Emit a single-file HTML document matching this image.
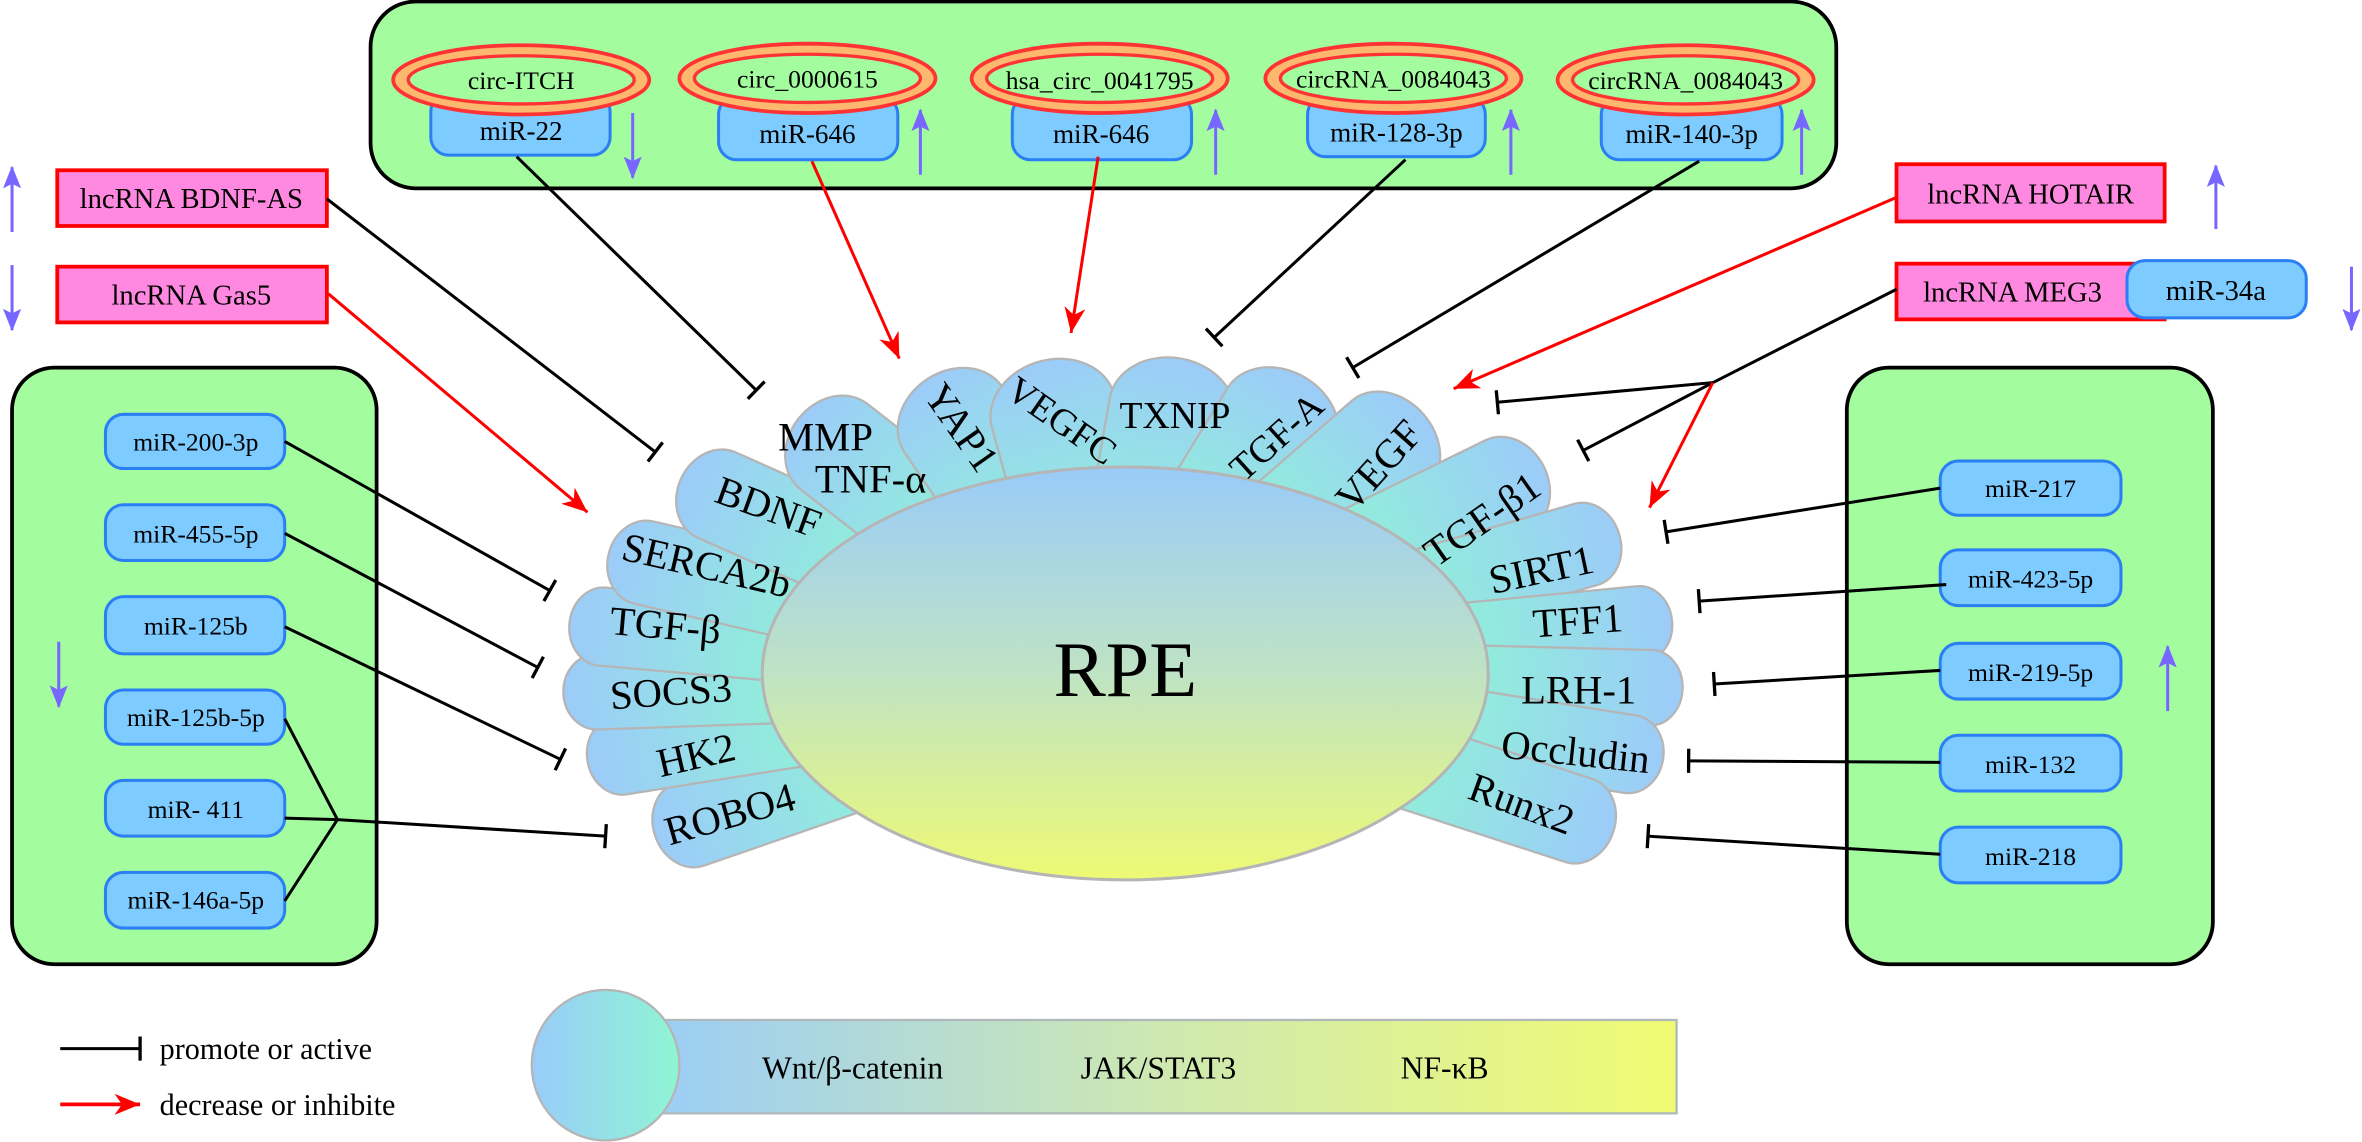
<!DOCTYPE html>
<html><head><meta charset="utf-8"><style>html,body{margin:0;padding:0;background:#fff}svg{display:block}svg text, svg g{font-family:"Liberation Serif","Times New Roman",Times,"DejaVu Serif",serif}</style></head>
<body>
<svg width="2362" height="1142" viewBox="0 0 1568 758" preserveAspectRatio="none" xmlns="http://www.w3.org/2000/svg" font-family="'Liberation Serif', 'Times New Roman', serif">
<defs>
<linearGradient id="pg" x1="0" y1="0" x2="1" y2="0"><stop offset="0" stop-color="#8ff5d4"/><stop offset="1" stop-color="#9ccbf9"/></linearGradient>
<linearGradient id="eg" x1="0" y1="0" x2="0" y2="1"><stop offset="0" stop-color="#99cbf9"/><stop offset="0.5" stop-color="#bfe3c4"/><stop offset="1" stop-color="#eefa74"/></linearGradient>
<linearGradient id="bg" x1="0" y1="0" x2="1" y2="0"><stop offset="0" stop-color="#99ccf9"/><stop offset="0.5" stop-color="#cde8b2"/><stop offset="1" stop-color="#f1fb72"/></linearGradient>
<linearGradient id="cg" x1="0" y1="0" x2="1" y2="0"><stop offset="0" stop-color="#99ccf9"/><stop offset="1" stop-color="#8ff5d4"/></linearGradient>
<marker id="t" markerUnits="userSpaceOnUse" markerWidth="4" markerHeight="18" refX="2" refY="9" orient="auto"><line x1="2" y1="1" x2="2" y2="17" stroke="#000" stroke-width="2.2"/></marker>
<marker id="a" markerUnits="userSpaceOnUse" markerWidth="18" markerHeight="14" refX="17" refY="7" orient="auto"><path d="M0,0 L17,7 L0,14 L5,7z" fill="#ff0000"/></marker>
<marker id="p" markerUnits="userSpaceOnUse" markerWidth="16" markerHeight="12" refX="14" refY="6" orient="auto"><path d="M0,0 L15,6 L0,12 L3,6z" fill="#7766ff"/></marker>
</defs>

<rect x="246" y="1" width="973" height="124" rx="30" fill="#a3fd9f" stroke="#000" stroke-width="2.5"/>
<rect x="8" y="244" width="242" height="396" rx="28" fill="#a3fd9f" stroke="#000" stroke-width="2.5"/>
<rect x="1226" y="244" width="243" height="396" rx="28" fill="#a3fd9f" stroke="#000" stroke-width="2.5"/>

<g fill="#7dcbff" stroke="#2b7ff5" stroke-width="2">
<rect x="286" y="62" width="119" height="41" rx="12"/>
<rect x="477" y="64" width="119" height="42" rx="12"/>
<rect x="672" y="64" width="119" height="42" rx="12"/>
<rect x="868" y="64" width="118" height="40" rx="12"/>
<rect x="1063" y="64" width="120" height="42" rx="12"/>
</g>
<g font-size="18" text-anchor="middle">
<text x="346" y="93">miR-22</text><text x="536" y="95">miR-646</text><text x="731" y="95">miR-646</text><text x="927" y="94">miR-128-3p</text><text x="1123" y="95">miR-140-3p</text>
</g>
<g fill="#fdb86f" stroke="#ff3333" stroke-width="2.5">
<ellipse cx="346" cy="53" rx="85" ry="23"/><ellipse cx="536" cy="52" rx="85" ry="23"/><ellipse cx="730" cy="52" rx="85" ry="23"/><ellipse cx="925" cy="52" rx="85" ry="23"/><ellipse cx="1119" cy="53" rx="85" ry="23"/>
</g>
<g fill="#a3fd9f" stroke="#ff3333" stroke-width="2.2">
<ellipse cx="346" cy="53" rx="75" ry="16"/><ellipse cx="536" cy="52" rx="75" ry="16"/><ellipse cx="730" cy="52" rx="75" ry="16"/><ellipse cx="925" cy="52" rx="75" ry="16"/><ellipse cx="1119" cy="53" rx="75" ry="16"/>
</g>
<g font-size="17" text-anchor="middle">
<text x="346" y="59">circ-ITCH</text><text x="536" y="58">circ_0000615</text><text x="730" y="59">hsa_circ_0041795</text><text x="925" y="58">circRNA_0084043</text><text x="1119" y="59">circRNA_0084043</text>
</g>

<g stroke="#7766ff" stroke-width="2" marker-end="url(#p)">
<line x1="420" y1="75" x2="420" y2="118"/>
<line x1="611" y1="116" x2="611" y2="73"/>
<line x1="807" y1="116" x2="807" y2="73"/>
<line x1="1003" y1="116" x2="1003" y2="73"/>
<line x1="1196" y1="116" x2="1196" y2="73"/>
<line x1="8" y1="154" x2="8" y2="111"/>
<line x1="8" y1="176" x2="8" y2="219"/>
<line x1="39" y1="426" x2="39" y2="469"/>
<line x1="1471" y1="152" x2="1471" y2="110"/>
<line x1="1561" y1="177" x2="1561" y2="219"/>
<line x1="1439" y1="472" x2="1439" y2="429"/>
</g>

<g fill="#ff88e0" stroke="#ff0000" stroke-width="2.5">
<rect x="38" y="113" width="179" height="37"/>
<rect x="38" y="177" width="179" height="37"/>
<rect x="1259" y="109" width="178" height="38"/>
<rect x="1259" y="175" width="178" height="37"/>
</g>
<rect x="1412" y="173" width="119" height="38" rx="12" fill="#7dcbff" stroke="#2b7ff5" stroke-width="2"/>
<g font-size="19" text-anchor="middle">
<text x="127" y="138">lncRNA BDNF-AS</text><text x="127" y="202">lncRNA Gas5</text>
<text x="1348" y="135">lncRNA HOTAIR</text><text x="1336" y="200">lncRNA MEG3</text>
<text x="1471" y="199">miR-34a</text>
</g>

<g fill="#7dcbff" stroke="#2b7ff5" stroke-width="2">
<rect x="70" y="275" width="119" height="36" rx="12"/><rect x="70" y="335" width="119" height="37" rx="12"/><rect x="70" y="396" width="119" height="38" rx="12"/><rect x="70" y="458" width="119" height="36" rx="12"/><rect x="70" y="518" width="119" height="37" rx="12"/><rect x="70" y="579" width="119" height="37" rx="12"/>
<rect x="1288" y="306" width="120" height="36" rx="12"/><rect x="1288" y="365" width="120" height="37" rx="12"/><rect x="1288" y="427" width="120" height="37" rx="12"/><rect x="1288" y="488" width="120" height="37" rx="12"/><rect x="1288" y="549" width="120" height="37" rx="12"/>
</g>
<g font-size="17" text-anchor="middle">
<text x="130" y="299">miR-200-3p</text><text x="130" y="360">miR-455-5p</text><text x="130" y="421">miR-125b</text><text x="130" y="482">miR-125b-5p</text><text x="130" y="543">miR- 411</text><text x="130" y="603">miR-146a-5p</text>
<text x="1348" y="330">miR-217</text><text x="1348" y="390">miR-423-5p</text><text x="1348" y="452">miR-219-5p</text><text x="1348" y="513">miR-132</text><text x="1348" y="574">miR-218</text>
</g>

<g stroke="#b5b5b5" stroke-width="1.5" fill="url(#pg)">
<g transform="translate(435,555) rotate(161)"><rect x="-170" y="-29" width="170" height="58" rx="24" ry="29"/></g>
<g transform="translate(390,505) rotate(171)"><rect x="-170" y="-26" width="170" height="52" rx="22" ry="26"/></g>
<g transform="translate(374,460) rotate(178)"><rect x="-170" y="-25" width="170" height="50" rx="22" ry="25"/></g>
<g transform="translate(378,414) rotate(185)"><rect x="-170" y="-26" width="170" height="52" rx="22" ry="26"/></g>
<g transform="translate(404,368) rotate(193)"><rect x="-170" y="-28" width="170" height="56" rx="24" ry="28"/></g>
<g transform="translate(452,318) rotate(204)"><rect x="-160" y="-31" width="160" height="62" rx="26" ry="31"/></g>
<g transform="translate(530,278) rotate(218)"><rect x="-150" y="-36" width="150" height="72" rx="30" ry="36"/></g>
<g transform="translate(615,252) rotate(236)"><rect x="-140" y="-39" width="140" height="78" rx="32" ry="39"/></g>
<g transform="translate(690,240) rotate(254.6)"><rect x="-140" y="-42" width="140" height="84" rx="34" ry="42"/></g>
<g transform="translate(784,238) rotate(280)"><rect x="-140" y="-42" width="140" height="84" rx="34" ry="42"/></g>
<g transform="translate(867,251) rotate(301.5)"><rect x="-140" y="-41" width="140" height="82" rx="33" ry="41"/></g>
<g transform="translate(945,275) rotate(319)"><rect x="-150" y="-38" width="150" height="76" rx="30" ry="38"/></g>
<g transform="translate(1025,310) rotate(334)"><rect x="-160" y="-33" width="160" height="66" rx="27" ry="33"/></g>
<g transform="translate(1075,355) rotate(344)"><rect x="-170" y="-28" width="170" height="56" rx="23" ry="28"/></g>
<g transform="translate(1110,412) rotate(354.5)"><rect x="-170" y="-25" width="170" height="50" rx="21" ry="25"/></g>
<g transform="translate(1117,457) rotate(1.5)"><rect x="-170" y="-25" width="170" height="50" rx="21" ry="25"/></g>
<g transform="translate(1104,504) rotate(9)"><rect x="-170" y="-26" width="170" height="52" rx="22" ry="26"/></g>
<g transform="translate(1071,552) rotate(18)"><rect x="-170" y="-29" width="170" height="58" rx="24" ry="29"/></g>
</g>
<ellipse cx="747" cy="447" rx="241" ry="137" fill="url(#eg)" stroke="#b5b5b5" stroke-width="2"/>
<text x="747" y="462" font-size="52" text-anchor="middle">RPE</text>

<g font-size="27" text-anchor="middle">
<text transform="translate(487,549) rotate(-16)">ROBO4</text>
<text transform="translate(464,510) rotate(-13)">HK2</text>
<text transform="translate(446,468) rotate(-4)">SOCS3</text>
<text transform="translate(441,424) rotate(5)">TGF-β</text>
<text transform="translate(467,384) rotate(13)">SERCA2b</text>
<text transform="translate(507,345) rotate(20)">BDNF</text>
<text x="548" y="299">MMP</text>
<text x="578" y="327">TNF-α</text>
<text transform="translate(631,289) rotate(55)">YAP1</text>
<text font-size="25" transform="translate(700,286) rotate(35)">VEGFC</text>
<text font-size="25" x="780" y="284">TXNIP</text>
<text font-size="25" transform="translate(853,296) rotate(-42)">TGF-A</text>
<text transform="translate(922,315) rotate(-48)">VEGF</text>
<text transform="translate(989,352) rotate(-35)">TGF-β1</text>
<text transform="translate(1025,387) rotate(-12)">SIRT1</text>
<text transform="translate(1048,421) rotate(-4)">TFF1</text>
<text x="1048" y="467">LRH-1</text>
<text transform="translate(1045,508) rotate(6)">Occludin</text>
<text transform="translate(1007,542) rotate(20)">Runx2</text>
</g>

<g stroke="#000" stroke-width="2" fill="none" marker-end="url(#t)">
<line x1="217" y1="132" x2="435" y2="300"/>
<line x1="343" y1="104" x2="502" y2="259"/>
<line x1="933" y1="106" x2="806" y2="224"/>
<line x1="1128" y1="107" x2="898" y2="244"/>
<polyline points="1259,192 1137,254 1051,299"/>
<line x1="1137" y1="254" x2="994" y2="267"/>
<line x1="189" y1="293" x2="365" y2="392"/>
<line x1="189" y1="354" x2="357" y2="443"/>
<line x1="189" y1="416" x2="372" y2="504"/>
<line x1="224" y1="544" x2="402" y2="555"/>
<line x1="1288" y1="324" x2="1106" y2="353"/>
<line x1="1292" y1="388" x2="1128" y2="399"/>
<line x1="1288" y1="445" x2="1138" y2="454"/>
<line x1="1288" y1="506" x2="1121" y2="505"/>
<line x1="1288" y1="567" x2="1094" y2="555"/>
</g>
<g stroke="#000" stroke-width="2" fill="none">
<polyline points="189,477 224,544 189,598"/>
<line x1="189" y1="543" x2="224" y2="544"/>
</g>
<g stroke="#ff0000" stroke-width="2" fill="none" marker-end="url(#a)">
<line x1="218" y1="195" x2="390" y2="340"/>
<line x1="539" y1="107" x2="597" y2="238"/>
<line x1="729" y1="104" x2="711" y2="221"/>
<line x1="1259" y1="131" x2="965" y2="258"/>
<line x1="1137" y1="254" x2="1095" y2="337"/>
</g>

<line x1="40" y1="696" x2="93" y2="696" stroke="#000" stroke-width="2" marker-end="url(#t)"/>
<line x1="40" y1="733" x2="93" y2="733" stroke="#ff0000" stroke-width="2.5" marker-end="url(#a)"/>
<g font-size="20"><text x="106" y="703">promote or active</text><text x="106" y="740">decrease or inhibite</text></g>

<rect x="420" y="677" width="693" height="62" fill="url(#bg)" stroke="#b0b8bc" stroke-width="1.5"/>
<ellipse cx="402" cy="707" rx="49" ry="50" fill="url(#cg)" stroke="#b5b5b5" stroke-width="1.5"/>
<g font-size="21" text-anchor="middle"><text x="566" y="716">Wnt/β-catenin</text><text x="769" y="716">JAK/STAT3</text><text x="959" y="716">NF-κB</text></g>
</svg>
</body></html>
